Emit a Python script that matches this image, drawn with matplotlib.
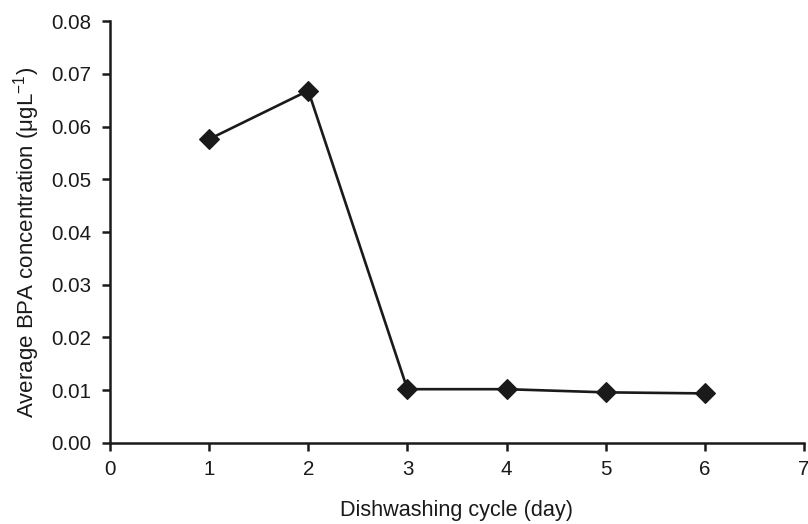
import numpy as np
import matplotlib
matplotlib.use("Agg")
import matplotlib.pyplot as plt

# values
days = [1, 2, 3, 4, 5, 6]
bpa_conc = [0.0576, 0.0668, 0.0102, 0.0102, 0.0096, 0.0094]
x_ticks = [0, 1, 2, 3, 4, 5, 6, 7]
y_ticks = [0.00, 0.01, 0.02, 0.03, 0.04, 0.05, 0.06, 0.07, 0.08]

plt.rcParams['font.family'] = ['Liberation Sans', 'DejaVu Sans']
plt.rcParams['mathtext.fontset'] = 'custom'
plt.rcParams['mathtext.rm'] = 'Liberation Sans'
plt.rcParams['mathtext.it'] = 'Liberation Sans:italic'

fig = plt.figure(figsize=(8.08, 5.24), dpi=100)
ax = fig.add_axes([0.1361, 0.1546, 0.8589, 0.8053])

ax.plot(days, bpa_conc, color="#1a1a1a", lw=1.9, marker="D", ms=10,
        mfc="#1a1a1a", mec="#1a1a1a", mew=0.8, clip_on=False)

ax.set_xlim(0, 7)
ax.set_ylim(0, 0.08)
ax.set_xticks(x_ticks)
ax.set_yticks(y_ticks)
ax.set_yticklabels(["%.2f" % v for v in y_ticks])

for side in ["top", "right"]:
    ax.spines[side].set_visible(False)
for side in ["left", "bottom"]:
    ax.spines[side].set_linewidth(1.8)
    ax.spines[side].set_color("#1a1a1a")

ax.tick_params(axis="both", direction="out", length=5.5, width=1.8,
               color="#1a1a1a", labelsize=14.8, labelcolor="#1a1a1a")
ax.tick_params(axis="x", pad=7)
ax.tick_params(axis="y", pad=8)

ax.set_xlabel("Dishwashing cycle (day)", fontsize=15.6, color="#1a1a1a", labelpad=15)
ax.set_ylabel(r"Average BPA concentration (μgL$^{-1}$)", fontsize=16,
              color="#1a1a1a")
ax.yaxis.set_label_coords(-0.098, 0.476)

fig.savefig("out.png", dpi=100)
